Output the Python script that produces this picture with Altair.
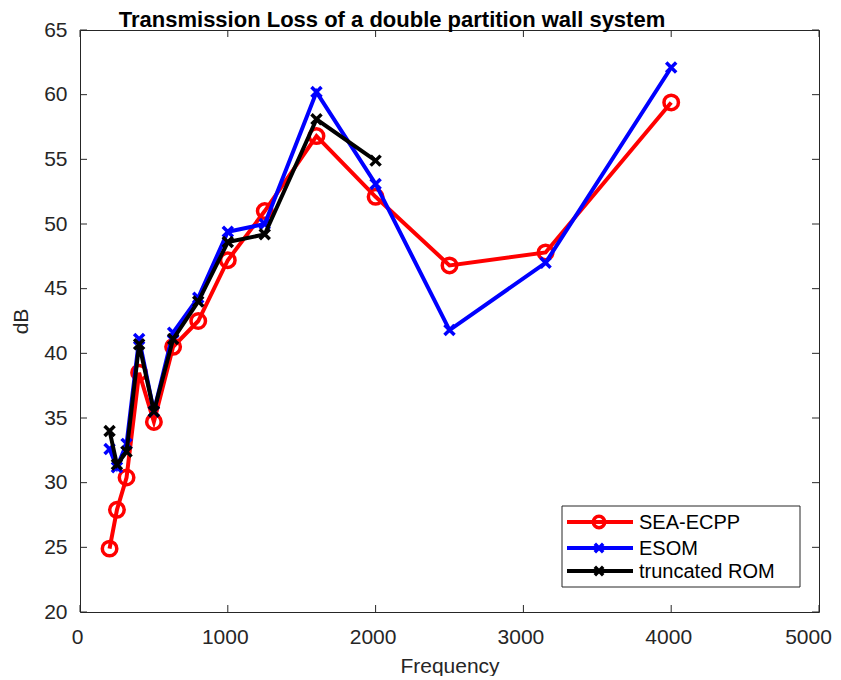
import altair as alt
import pandas as pd

# ---- data ----
freq = [200, 250, 315, 400, 500, 630, 800, 1000, 1250, 1600, 2000, 2500, 3150, 4000]
sea_ecpp = [24.9, 27.9, 30.4, 38.5, 34.7, 40.5, 42.5, 47.2, 51.0, 56.8, 52.1, 46.8, 47.8, 59.4]
esom = [32.6, 31.2, 33.0, 41.1, 35.5, 41.6, 44.3, 49.4, 50.0, 60.2, 53.1, 41.8, 47.0, 62.1]
rom_freq = [200, 250, 315, 400, 500, 630, 800, 1000, 1250, 1600, 2000]
truncated_rom = [34.0, 31.4, 32.4, 40.7, 35.5, 41.1, 44.0, 48.6, 49.2, 58.1, 54.9]

series_names = ["SEA-ECPP", "ESOM", "truncated ROM"]
series_colors = ["#ff0000", "#0000ff", "#000000"]
x_ticks = [0, 1000, 2000, 3000, 4000, 5000]
y_ticks = [20, 25, 30, 35, 40, 45, 50, 55, 60, 65]
title_text = "Transmission Loss of a double partition wall system"

# ---- layout ----
W, H = 739, 582
FONT = "Liberation Sans"
TXT = "#262626"
XSHAPE = "M-1,-1L1,1M-1,1L1,-1"

x_scale = alt.Scale(domain=[0, 5000], nice=False, zero=False)
y_scale = alt.Scale(domain=[20, 65], nice=False, zero=False)
x_axis = alt.Axis(values=x_ticks, title="Frequency", format="d", ticks=False, tickSize=0,
                  domain=False, grid=False, labelPadding=14, titlePadding=8, labelFlush=False,
                  labelOffset={"condition": {"test": "datum.value >= 5000", "value": -11},
                               "value": -3})
y_axis = alt.Axis(values=y_ticks, title="dB", format="d", ticks=False, tickSize=0,
                  domain=False, grid=False, labelPadding=13, titlePadding=12, labelFlush=False)


def X(field):
    return alt.X(field, scale=x_scale, axis=x_axis, title="Frequency")


def Y(field):
    return alt.Y(field, scale=y_scale, axis=y_axis, title="dB")


def series(fx, fy, color, shape, size):
    df = pd.DataFrame({"f": fx, "v": fy})
    line = alt.Chart(df).mark_line(color=color, strokeWidth=4).encode(x=X("f:Q"), y=Y("v:Q"))
    pts = alt.Chart(df).mark_point(shape=shape, filled=False, color=color, size=size,
                                   strokeWidth=3.5, opacity=1).encode(x=X("f:Q"), y=Y("v:Q"))
    return [line, pts]


layers = []
# inward ticks (MATLAB style)
xt = pd.DataFrame({"t": x_ticks})
yt = pd.DataFrame({"t": y_ticks})
tick_style = dict(color=TXT, strokeWidth=1)
layers.append(alt.Chart(xt).mark_rule(**tick_style).encode(x=X("t:Q"), y=alt.value(H), y2=alt.value(H - 7)))
layers.append(alt.Chart(xt).mark_rule(**tick_style).encode(x=X("t:Q"), y=alt.value(0), y2=alt.value(7)))
layers.append(alt.Chart(yt).mark_rule(**tick_style).encode(y=Y("t:Q"), x=alt.value(0), x2=alt.value(7)))
layers.append(alt.Chart(yt).mark_rule(**tick_style).encode(y=Y("t:Q"), x=alt.value(W), x2=alt.value(W - 7)))

layers += series(freq, sea_ecpp, series_colors[0], "circle", 210)
layers += series(freq, esom, series_colors[1], XSHAPE, 100)
layers += series(rom_freq, truncated_rom, series_colors[2], XSHAPE, 100)

one = pd.DataFrame({"a": [0]})
# title
layers.append(alt.Chart(one).mark_text(text=title_text, align="center", baseline="alphabetic",
                                       font=FONT, fontSize=22, fontWeight="bold", color="black").encode(
    x=alt.value(312), y=alt.value(-3)))

# legend box
LX0, LX1, LY0, LY1 = 482, 720, 476, 557
layers.append(alt.Chart(one).mark_rect(fill="white", stroke=TXT, strokeWidth=1).encode(
    x=alt.value(LX0), x2=alt.value(LX1), y=alt.value(LY0), y2=alt.value(LY1)))
row_y = [492, 518, 541]
shapes = ["circle", XSHAPE, XSHAPE]
sizes = [130, 70, 70]
for name, col, shp, sz, ry in zip(series_names, series_colors, shapes, sizes, row_y):
    layers.append(alt.Chart(one).mark_rule(color=col, strokeWidth=4).encode(
        x=alt.value(487), x2=alt.value(553), y=alt.value(ry)))
    layers.append(alt.Chart(one).mark_point(shape=shp, filled=False, color=col, size=sz,
                                            strokeWidth=3.5, opacity=1).encode(
        x=alt.value(519), y=alt.value(ry)))
    layers.append(alt.Chart(one).mark_text(text=name, align="left", baseline="middle",
                                           font=FONT, fontSize=20, color="black").encode(
        x=alt.value(559), y=alt.value(ry + 1)))

chart = alt.layer(*layers).properties(
    width=W, height=H,
    autosize=alt.AutoSizeParams(type="none"),
    padding={"left": 72, "top": 22, "right": 13, "bottom": 64},
).configure(background="white").configure_view(stroke=TXT, strokeWidth=1).configure_axis(
    labelFont=FONT, titleFont=FONT, labelFontSize=21, titleFontSize=21,
    labelColor=TXT, titleColor=TXT, titleFontWeight="normal",
)

chart.save("out.html", embed_options={"renderer": "svg", "actions": False})
